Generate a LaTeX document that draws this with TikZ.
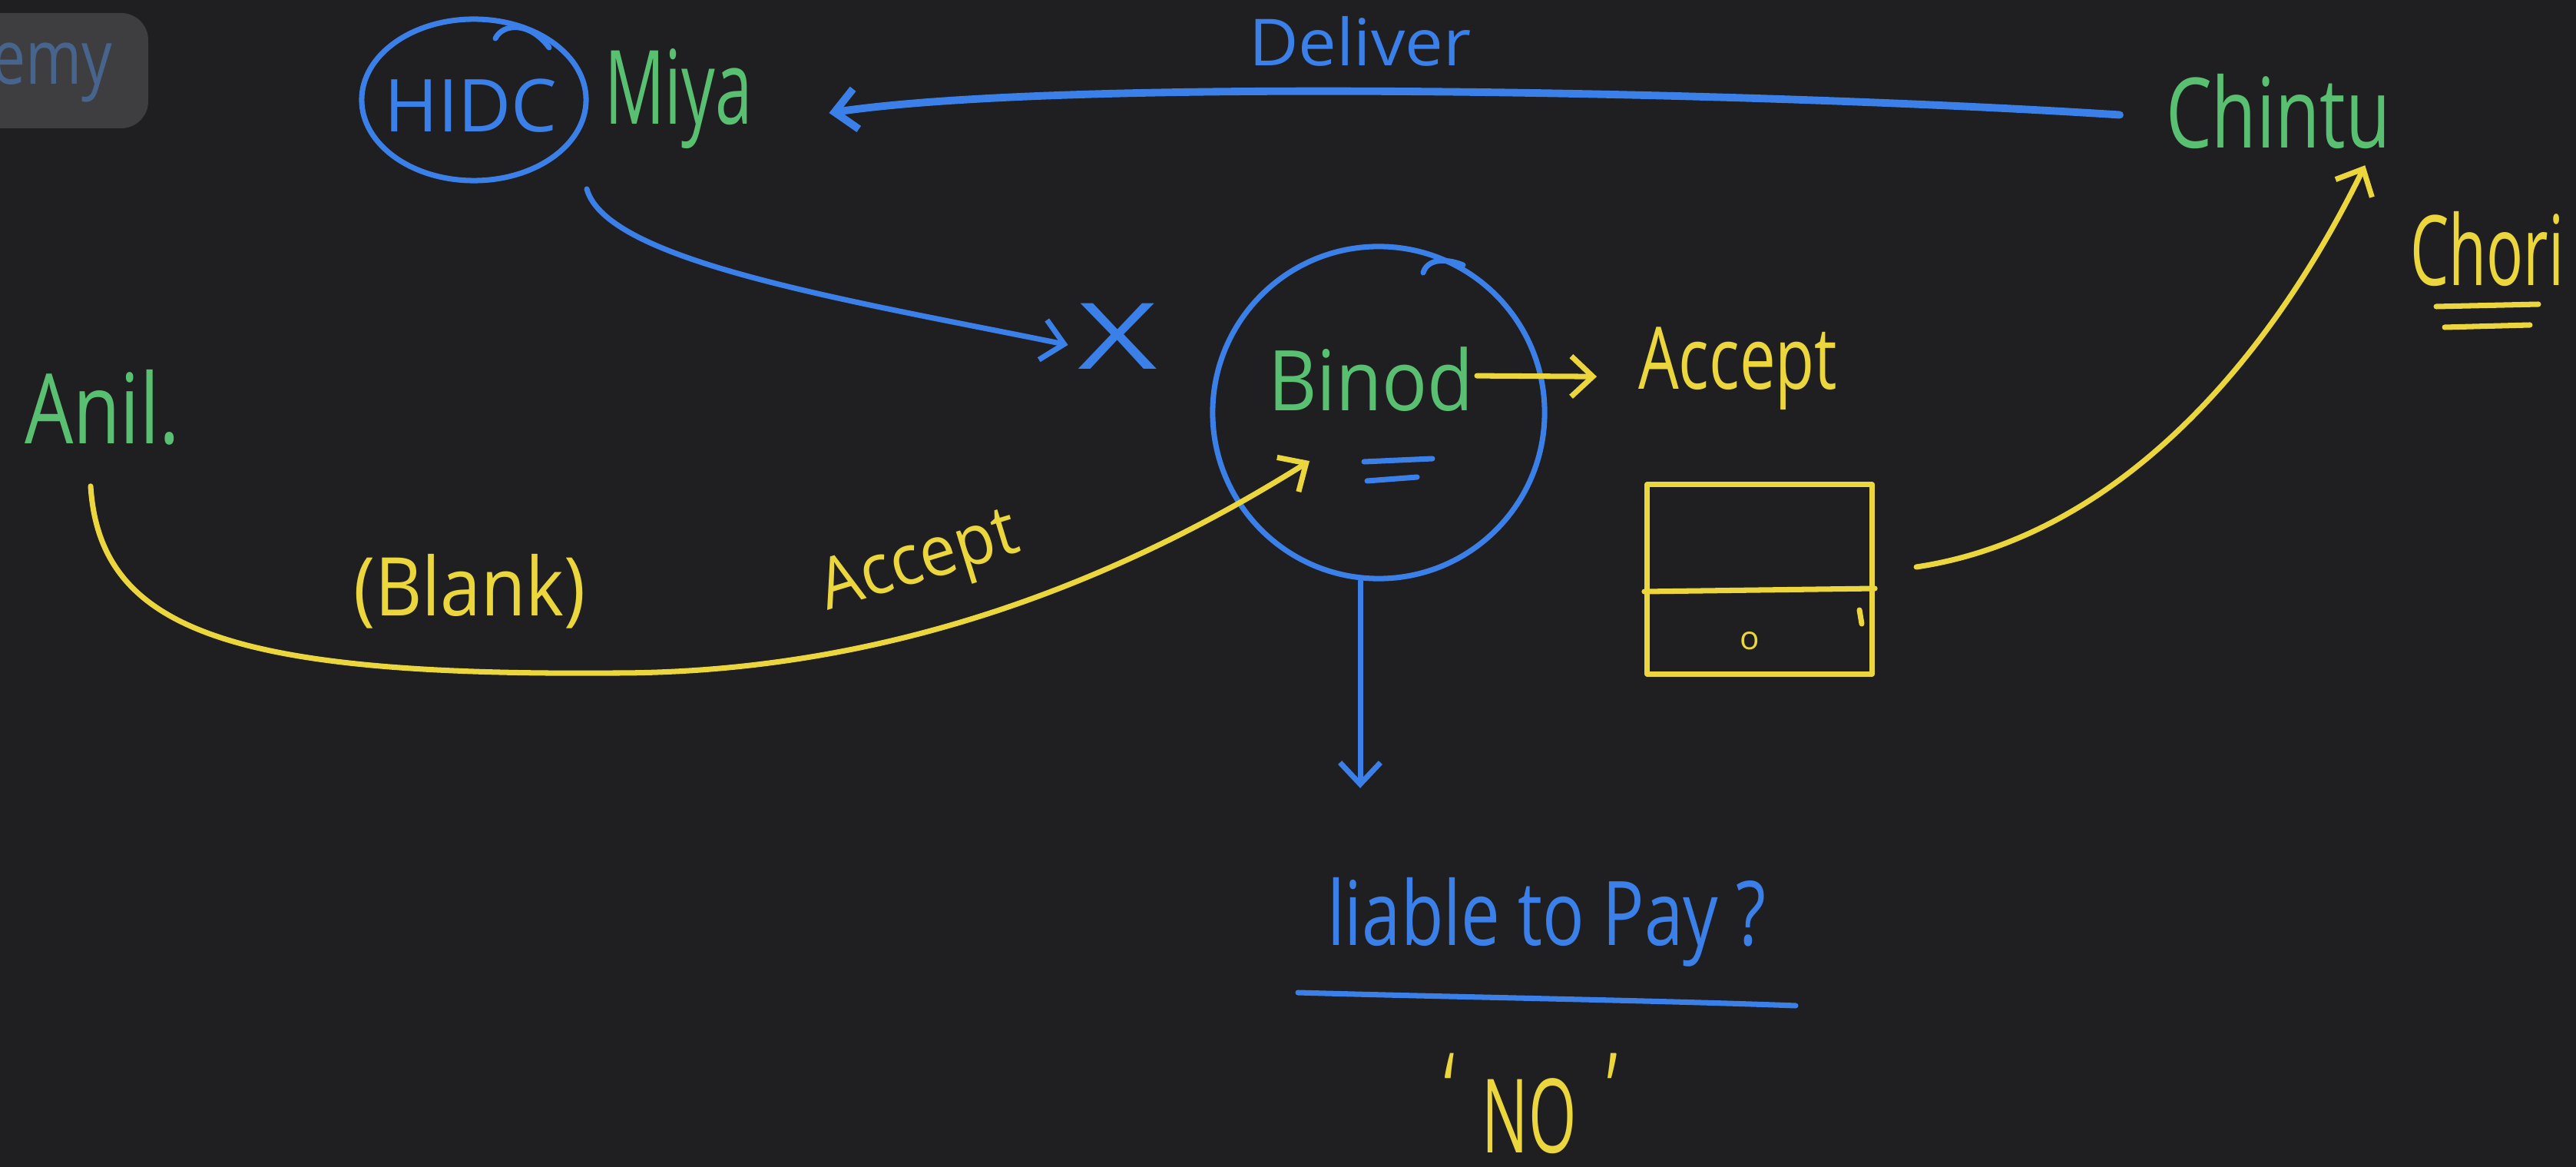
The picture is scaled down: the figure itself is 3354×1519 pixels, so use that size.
\documentclass[tikz,border=0pt]{standalone}
\usepackage{fontspec}
\setmainfont{Open Sans}
\usepackage{graphicx}
\usetikzlibrary{arrows.meta,calc,shapes.geometric}

\definecolor{board}{RGB}{31,31,33}
\definecolor{penblue}{RGB}{58,128,232}
\definecolor{pengreen}{RGB}{88,192,112}
\definecolor{penyellow}{RGB}{236,214,62}
\definecolor{tabgray}{RGB}{62,62,65}
\definecolor{tabtext}{RGB}{70,100,140}

% handwritten-looking word: size in pt, horizontal squeeze, text
\newcommand{\hand}[3]{\fontsize{#1}{#1}\selectfont\scalebox{#2}[1]{#3}}

\begin{document}
\begin{tikzpicture}[x=0.01cm,y=-0.01cm,
  ink/.style={line width=2pt,line cap=round,line join=round},
  bluepen/.style={ink,draw=penblue},
  yellowpen/.style={ink,draw=penyellow},
  word/.style={inner sep=0pt,outer sep=0pt,anchor=base west},
  barb/.style={-{Straight Barb[length=8pt,width=15pt]}}
]
% board
\fill[board] (0,0) rectangle (3354,1519);
\useasboundingbox (0,0) rectangle (3354,1519);

% corner tab
\fill[tabgray,rounded corners=10pt] (-80,17) rectangle (193,167);
\node[inner sep=0pt,anchor=base east,text=tabtext] (tab) at (147,110) {\hand{28}{.8}{emy}};

% parties
\node[ellipse,draw=penblue,ink,minimum width=2.92cm,minimum height=2.1cm,inner sep=0pt] (hidcring) at (617,130) {};
\draw[bluepen] (645,50) .. controls (655,30) and (690,28) .. (715,62);
\node[word,text=penblue] (hidc) at (500,172) {\hand{27}{1}{HIDC}};
\node[word,text=pengreen] (miya) at (787,162) {\hand{38}{.65}{Miya}};
\node[word,text=pengreen] (chintu) at (2820,193) {\hand{36}{.75}{Chintu}};
\node[word,text=penyellow] (chori) at (3138,372) {\hand{36}{.63}{Chori}};
\draw[yellowpen] (3172,399) -- (3305,396);
\draw[yellowpen] (3183,426) -- (3294,423);
\node[word,text=pengreen] (anil) at (32,578) {\hand{36}{.79}{Anil.}};

\node[circle,draw=penblue,ink,minimum size=4.32cm,inner sep=0pt] (binodring) at (1795,537) {};
\draw[bluepen] (1853,355) .. controls (1858,338) and (1880,335) .. (1905,345);
\node[word,text=pengreen] (binod) at (1651,535) {\hand{31}{.9}{Binod}};
\draw[bluepen] (1776,601) -- (1865,597);
\draw[bluepen] (1780,626) -- (1845,621);

\node[word,text=penyellow] (accept) at (2133,507) {\hand{32}{.74}{Accept}};

% ledger
\node[draw=penyellow,ink,minimum width=2.93cm,minimum height=2.46cm,inner sep=0pt] (ledger) at (2291,754) {};
\draw[yellowpen] ($(ledger.west)+(0,16)$) -- ($(ledger.east)+(0,12)$);
\node[inner sep=0pt,text=penyellow] (zero) at (2278,834) {\hand{12}{1}{o}};
\draw[yellowpen] (2421,794) -- (2424,812);

% labels on connectors
\node[word,text=penblue] (deliver) at (1626,86) {\hand{24}{1.05}{Deliver}};
\node[inner sep=0pt,text=penblue] (cross) at (1455,438) {\hand{34}{1.5}{X}};
\node[word,text=penyellow] (blank) at (460,802) {\hand{30}{.9}{(Blank)}};
\node[inner sep=0pt,text=penyellow,rotate=17] (acceptlow) at (1198,735) {\hand{26}{.93}{Accept}};

% question and answer
\node[word,text=penblue] (liable) at (1728,1230) {\hand{33}{.78}{liable to Pay ?}};
\draw[bluepen] (1690,1292) .. controls (1900,1298) and (2150,1302) .. (2338,1309);
\node[word,text=penyellow] (no) at (1880,1500)
  {\hand{38}{.6}{\raisebox{.25em}{‘}\kern.45em NO\kern.5em\raisebox{.25em}{’}}};

% connectors
\draw[bluepen,line width=2.8pt,barb]
  ($(chintu.west)+(-60,4)$) .. controls (2300,120) and (1400,100) .. ($(miya.east)+(100,18)$);
\draw[bluepen,barb]
  ($(hidcring.center)+(147,116)$) .. controls (790,340) and (1100,390) .. ($(cross.west)+(-12,11)$);
\draw[yellowpen,barb]
  ($(anil.south west)+(86,53)$) .. controls (130,820) and (300,880) .. (800,876)
  .. controls (1150,876) and (1450,760) .. ($(binod.south west)+(54,64)$);
\draw[yellowpen,barb] ($(binod.east)+(4,-5)$) -- ($(accept.west)+(-54,10)$);
\draw[yellowpen,barb]
  ($(ledger.east)+(54,-16)$) .. controls (2750,700) and (2950,480) .. ($(chintu.south east)+(-33,21)$);
\draw[bluepen,barb] ($(binodring.south)+(-24,0)$) -- ($(liable.north west)+(43,-116)$);
\end{tikzpicture}
\end{document}
